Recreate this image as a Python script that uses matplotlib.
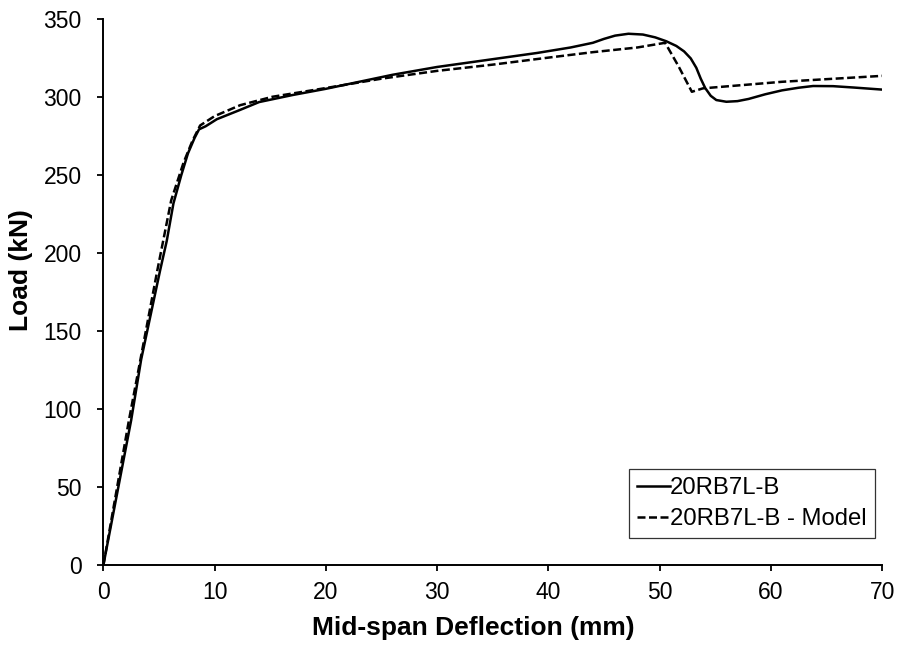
import matplotlib
matplotlib.use("Agg")
import matplotlib.pyplot as plt

plt.rcParams["font.family"] = ["Liberation Sans", "DejaVu Sans"]

# Test curve: mid-span deflection (mm) vs load (kN)
test_defl = [0, 2.5, 3.4, 5.1, 5.7, 6.3, 7.0, 7.6, 8.2, 8.6, 9.2, 10.2, 12.3, 14.0,
             17.0, 20.0, 23.0, 26.0, 30.0, 35.0, 39.0, 42.0, 44.0, 45.0, 46.0, 47.2,
             48.5, 49.6, 50.6, 51.5, 52.2, 52.8, 53.3, 53.7, 54.1, 54.6, 55.1, 56.0,
             57.0, 58.0, 59.5, 61.0, 62.5, 63.8, 65.6, 67.5, 70.0]
test_load = [0, 93, 132, 189, 208, 232, 250, 264, 274, 279.5, 281.5, 286, 292, 297,
             301.5, 305.5, 310, 314.5, 319.5, 324.5, 328.5, 332, 335, 337.5, 339.6, 340.8,
             340.3, 338.5, 336, 333, 329.5, 325, 319, 312, 306, 301, 298.3, 297.2,
             297.6, 299, 302, 304.5, 306.2, 307.3, 307.2, 306.3, 305]

# Model curve
model_defl = [0, 2.3, 4.85, 6.1, 7.2, 8.0, 8.7, 10.0, 12.3, 15.2, 20.0, 25.0, 30.0,
              35.0, 40.0, 44.0, 48.0, 50.5, 51.7, 52.9, 53.9, 61.0, 70.0]
model_load = [0, 93, 189, 234, 258, 272, 282, 288, 295, 300.4, 306, 312, 317,
              321, 325.5, 329, 332, 335, 320, 303.6, 305.8, 310, 313.8]

x_ticks = [0, 10, 20, 30, 40, 50, 60, 70]
y_ticks = [0, 50, 100, 150, 200, 250, 300, 350]

fig = plt.figure(figsize=(9.01, 6.47), dpi=100)
ax = fig.add_axes([0.1147, 0.1263, 0.8643, 0.8437])

ax.plot(test_defl, test_load, color="black", lw=1.8, ls="-", label="20RB7L-B")
ax.plot(model_defl, model_load, color="black", lw=1.8, ls=(0, (3.2, 1.4)),
        label="20RB7L-B - Model")

ax.set_xlim(0, 70)
ax.set_ylim(0, 350)
ax.set_xticks(x_ticks)
ax.set_yticks(y_ticks)
ax.tick_params(direction="out", length=4.5, width=1.3, labelsize=16.5)
ax.tick_params(axis="y", pad=11)
ax.tick_params(axis="x", pad=7)
for s in ("top", "right"):
    ax.spines[s].set_visible(False)
for s in ("left", "bottom"):
    ax.spines[s].set_linewidth(1.4)

ax.set_xlabel("Mid-span Deflection (mm)", fontsize=19, fontweight="bold")
ax.set_ylabel("Load (kN)", fontsize=19, fontweight="bold")
ax.xaxis.set_label_coords(0.475, -0.092)
ax.yaxis.set_label_coords(-0.090, 0.541)

leg = ax.legend(loc="upper left", bbox_to_anchor=(0.675, 0.1764), fontsize=17.2,
                frameon=True, fancybox=False, handlelength=1.35, handletextpad=0.02,
                borderpad=0.35, labelspacing=0.36, borderaxespad=0)
leg.get_frame().set_edgecolor("black")
leg.get_frame().set_linewidth(0.9)

fig.savefig("out.png", dpi=100)
